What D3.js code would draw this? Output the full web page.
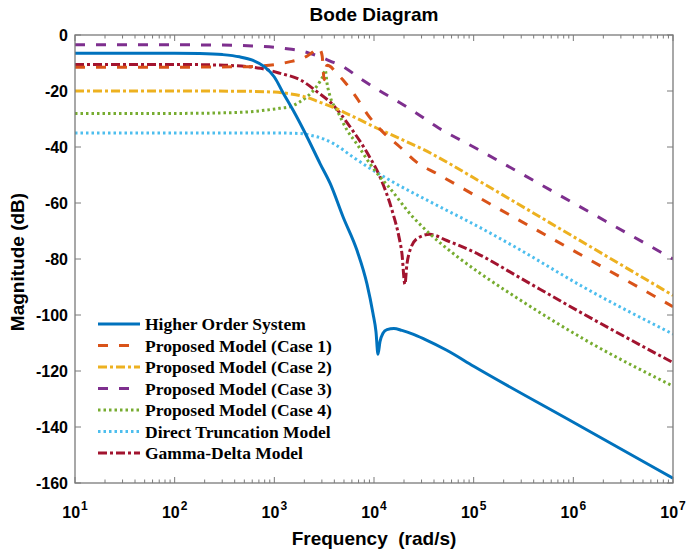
<!DOCTYPE html>
<html>
<head>
<meta charset="utf-8">
<script src="https://cdn.jsdelivr.net/npm/d3@7"></script>
<style>
  html, body { margin: 0; padding: 0; background: #fff; }
  svg { display: block; }
</style>
</head>
<body>
<svg id="chart" width="688" height="549"></svg>
<script>
// Bode magnitude responses: frequency (rad/s) and magnitude (dB)
const hosFreq = [10, 100, 178, 302, 447, 603, 794, 1000, 1230, 1549, 2138, 2884, 3631, 4898, 6761, 8511, 9772, 10471, 10965, 11482, 12303, 13490, 15849, 19055, 24547, 31623, 53703, 1e5, 1e6, 1e7];
const hosMag  = [-6.5, -6.5, -6.6, -7.0, -7.8, -9.0, -11.3, -15, -20.8, -27, -36.5, -46, -53, -65, -77, -89, -99.5, -106, -114, -109.5, -106.5, -105.2, -104.8, -105.5, -106.8, -108.5, -112.6, -118.3, -138.3, -158.3];

const case1Freq = [10, 100, 501, 1000, 1413, 1820, 2138, 2399, 2630, 2754, 2884, 3020, 3162, 3273, 3388, 3631, 4169, 5012, 6761, 8710, 12303, 18197, 26915, 42658, 1e5, 1e6, 1e7];
const case1Mag  = [-11.5, -11.5, -11.3, -10.6, -9.6, -8.6, -7.5, -6.2, -5.0, -4.5, -5.2, -7.5, -16, -12, -10.8, -11.2, -13.5, -16.5, -22.6, -28.6, -34.7, -40, -45.5, -49.5, -57, -77, -97];

const case2Freq = [10, 100, 501, 1000, 1445, 1995, 2630, 3162, 3890, 5012, 6761, 10715, 18197, 33884, 57544, 1e5, 1e6, 1e7];
const case2Mag  = [-20, -20, -20.1, -20.4, -21, -22, -23.5, -24.6, -25.8, -27.6, -29.8, -33.3, -37, -41.5, -46, -51, -72, -93];

const case3Freq = [10, 100, 302, 603, 1000, 1413, 1820, 2291, 2884, 3631, 4898, 7244, 11482, 18197, 26915, 42658, 1e5, 1e6, 1e7];
const case3Mag  = [-3.5, -3.5, -3.6, -3.9, -4.4, -5.0, -5.6, -6.6, -7.8, -9.3, -11.3, -15.5, -20, -24.2, -28, -32.8, -40, -60, -80];

const case4Freq = [10, 100, 316, 575, 832, 1122, 1445, 1778, 2138, 2512, 2884, 3090, 3236, 3388, 3631, 4266, 5370, 6761, 9120, 12023, 13490, 24547, 36308, 67608, 114815, 269153, 1258925, 1e7];
const case4Mag  = [-28, -28, -27.8, -27.4, -26.8, -26.2, -25.6, -24, -22, -19.5, -16.5, -14.5, -12.5, -17.5, -22, -27, -34, -39, -46, -51.5, -53.5, -65, -71, -79, -85, -93.8, -108.5, -125.4];

const dtFreq = [10, 100, 1000, 1820, 2291, 3162, 3890, 6166, 9772, 15488, 36308, 114815, 269153, 1258925, 1e7];
const dtMag  = [-35, -35, -35, -35.2, -35.8, -37.2, -38.7, -43.6, -48.3, -52.5, -59.5, -68.7, -76, -90, -106.8];

const gdFreq = [10, 100, 316, 724, 1148, 1820, 2692, 3890, 5754, 8511, 11482, 15488, 17783, 19055, 20417, 21380, 22909, 27542, 36308, 53703, 114815, 269153, 1258925, 1e7];
const gdMag  = [-10.5, -10.5, -10.8, -11.9, -13.7, -16, -20.3, -25, -32.8, -42, -50.7, -63.7, -72, -78, -89, -82, -77, -72.5, -71.2, -73.4, -78.5, -86, -99.6, -117];

const seriesNames = [
  "Higher Order System",
  "Proposed Model (Case 1)",
  "Proposed Model (Case 2)",
  "Proposed Model (Case 3)",
  "Proposed Model (Case 4)",
  "Direct Truncation Model",
  "Gamma-Delta Model"
];

const xTickExponents = [1, 2, 3, 4, 5, 6, 7];
const yTickValues = [0, -20, -40, -60, -80, -100, -120, -140, -160];

const titleText = "Bode Diagram";
const xLabelText = "Frequency  (rad/s)";
const yLabelText = "Magnitude (dB)";

// Line appearance per series
const styles = [
  { color: "#0072BD", width: 3, dash: null },
  { color: "#D95319", width: 3, dash: "10,11" },
  { color: "#EDB120", width: 3, dash: "9,3,3,3" },
  { color: "#7E2F8E", width: 3, dash: "10,11" },
  { color: "#77AC30", width: 3, dash: "2.5,3" },
  { color: "#4DBEEE", width: 3, dash: "2.5,3" },
  { color: "#A2142F", width: 3, dash: "9,3,3,3" }
];

const seriesData = [
  [hosFreq, hosMag],
  [case1Freq, case1Mag],
  [case2Freq, case2Mag],
  [case3Freq, case3Mag],
  [case4Freq, case4Mag],
  [dtFreq, dtMag],
  [gdFreq, gdMag]
];

const W = 688, H = 549;
const margin = { left: 75, right: 15, top: 35, bottom: 66 };
const pw = W - margin.left - margin.right;
const ph = H - margin.top - margin.bottom;

const svg = d3.select("#chart");
const axisColor = "#7a7a7a";
const labelFont = "'Liberation Sans', Arial, Helvetica, sans-serif";

const x = d3.scaleLog().domain([1e1, 1e7]).range([0, pw]);
const y = d3.scaleLinear().domain([-160, 0]).range([ph, 0]);

const g = svg.append("g").attr("transform", `translate(${margin.left},${margin.top})`);

svg.append("defs").append("clipPath").attr("id", "plotClip")
  .append("rect").attr("x", 0).attr("y", 0).attr("width", pw).attr("height", ph);

// Tick marks, drawn inward on all four sides
const majorLen = 6, minorLen = 3.5;
const minorTicks = [];
for (let e = 1; e < 7; e++) {
  for (let m = 2; m <= 9; m++) minorTicks.push(m * Math.pow(10, e));
}
const majorTicksX = xTickExponents.map(e => Math.pow(10, e));

const tickG = g.append("g").attr("stroke", axisColor).attr("stroke-width", 1);
majorTicksX.forEach(v => {
  tickG.append("line").attr("x1", x(v)).attr("x2", x(v)).attr("y1", ph).attr("y2", ph - majorLen);
  tickG.append("line").attr("x1", x(v)).attr("x2", x(v)).attr("y1", 0).attr("y2", majorLen);
});
minorTicks.forEach(v => {
  tickG.append("line").attr("x1", x(v)).attr("x2", x(v)).attr("y1", ph).attr("y2", ph - minorLen);
  tickG.append("line").attr("x1", x(v)).attr("x2", x(v)).attr("y1", 0).attr("y2", minorLen);
});
yTickValues.forEach(v => {
  tickG.append("line").attr("x1", 0).attr("x2", majorLen).attr("y1", y(v)).attr("y2", y(v));
  tickG.append("line").attr("x1", pw).attr("x2", pw - majorLen).attr("y1", y(v)).attr("y2", y(v));
});

// Curves
const line = d3.line()
  .x(d => x(d[0]))
  .y(d => y(d[1]))
  .curve(d3.curveMonotoneX);

const curves = g.append("g").attr("clip-path", "url(#plotClip)");
// reduced models first, reference system on top
const drawOrder = [6, 5, 4, 3, 2, 1, 0];
drawOrder.forEach(i => {
  const [fr, mg] = seriesData[i];
  const pts = fr.map((f, k) => [f, mg[k]]);
  curves.append("path")
    .attr("d", line(pts))
    .attr("fill", "none")
    .attr("stroke", styles[i].color)
    .attr("stroke-width", styles[i].width)
    .attr("stroke-dasharray", styles[i].dash)
    .attr("stroke-linejoin", "round");
});

// Axes box
g.append("rect").attr("x", 0).attr("y", 0).attr("width", pw).attr("height", ph)
  .attr("fill", "none").attr("stroke", axisColor).attr("stroke-width", 1.3);

// Y tick labels
g.append("g").selectAll("text").data(yTickValues).join("text")
  .attr("x", -7).attr("y", d => y(d)).attr("dy", "0.35em")
  .attr("text-anchor", "end")
  .attr("font-family", labelFont).attr("font-weight", "bold").attr("font-size", 16)
  .attr("fill", "#000")
  .text(d => d);

// X tick labels with superscript exponent
const xl = g.append("g").selectAll("text").data(xTickExponents).join("text")
  .attr("x", d => x(Math.pow(10, d)))
  .attr("y", ph + 35)
  .attr("text-anchor", "middle")
  .attr("font-family", labelFont).attr("font-weight", "bold").attr("font-size", 16)
  .attr("fill", "#000");
xl.append("tspan").text("10");
xl.append("tspan").attr("dy", -8).attr("font-size", 12).attr("dx", 1).text(d => d);

// Title and axis labels
svg.append("text").attr("x", margin.left + pw / 2).attr("y", 21)
  .attr("text-anchor", "middle")
  .attr("font-family", labelFont).attr("font-weight", "bold").attr("font-size", 19)
  .attr("fill", "#000").text(titleText);

svg.append("text").attr("x", margin.left + pw / 2).attr("y", 545)
  .attr("text-anchor", "middle")
  .attr("font-family", labelFont).attr("font-weight", "bold").attr("font-size", 19)
  .attr("fill", "#000").attr("xml:space", "preserve").style("white-space", "pre")
  .text(xLabelText);

svg.append("text")
  .attr("transform", `translate(24,${margin.top + ph / 2 + 3}) rotate(-90)`)
  .attr("text-anchor", "middle")
  .attr("font-family", labelFont).attr("font-weight", "bold").attr("font-size", 19)
  .attr("fill", "#000").text(yLabelText);

// Legend
const legend = svg.append("g").attr("transform", "translate(98,324)");
const rowH = 21.5;
seriesNames.forEach((name, i) => {
  const row = legend.append("g").attr("transform", `translate(0,${i * rowH})`);
  row.append("line").attr("x1", 0).attr("x2", 42).attr("y1", 0).attr("y2", 0)
    .attr("stroke", styles[i].color).attr("stroke-width", styles[i].width)
    .attr("stroke-dasharray", styles[i].dash);
  row.append("text").attr("x", 47).attr("y", 0).attr("dy", "0.35em")
    .attr("font-family", "'Liberation Serif', 'Times New Roman', serif")
    .attr("font-weight", "bold").attr("font-size", 17.5)
    .attr("fill", "#000").text(name);
});
</script>
</body>
</html>
